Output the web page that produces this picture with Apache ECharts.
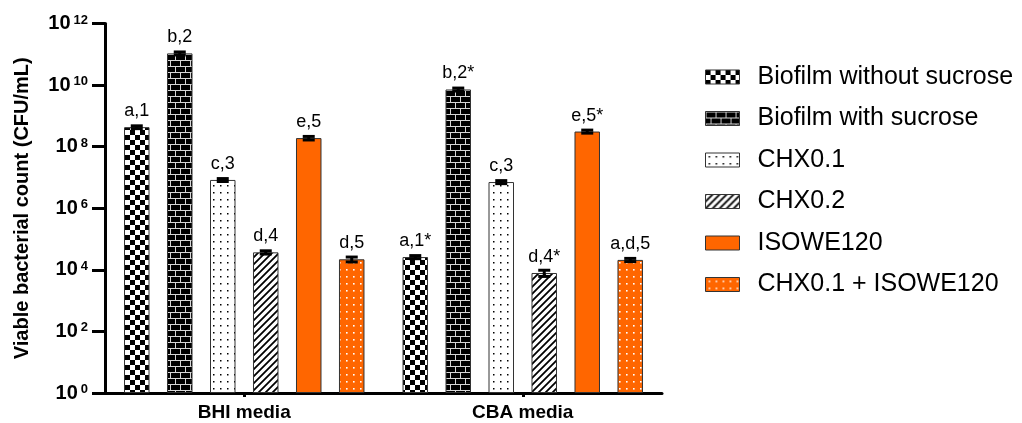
<!DOCTYPE html>
<html>
<head>
<meta charset="utf-8">
<script src="https://cdn.jsdelivr.net/npm/echarts@6/dist/echarts.min.js"></script>
<style>
  html, body { margin: 0; padding: 0; background: #fff; }
  #chart { width: 1022px; height: 423px; }
</style>
</head>
<body>
<div id="chart"></div>
<script>
// Culture media on the x axis
const media = ['BHI media', 'CBA media'];

// Treatment groups (legend order)
const groups = ['Biofilm without sucrose', 'Biofilm with sucrose', 'CHX0.1', 'CHX0.2', 'ISOWE120', 'CHX0.1 + ISOWE120'];

// Mean viable counts (CFU/mL), [BHI, CBA]
const withoutSucrose = [4.3e8, 2.6e4];
const withSucrose    = [1.07e11, 7.2e9];
const chx01          = [8.3e6, 7.1e6];
const chx02          = [3.7e4, 7.9e3];
const isowe120       = [1.9e8, 3.1e8];
const chxIsowe       = [2.2e4, 2.1e4];

// Standard deviations (CFU/mL), [BHI, CBA]
const sdWithoutSucrose = [0.45e8, 0.3e4];
const sdWithSucrose    = [1.2e10, 0.8e9];
const sdChx01          = [0.9e6, 0.8e6];
const sdChx02          = [0.45e4, 1.8e3];
const sdIsowe120       = [0.25e8, 0.35e8];
const sdChxIsowe       = [0.4e4, 0.25e4];

// Significance letters above each bar, [BHI, CBA]
const lblWithoutSucrose = ['a,1', 'a,1*'];
const lblWithSucrose    = ['b,2', 'b,2*'];
const lblChx01          = ['c,3', 'c,3'];
const lblChx02          = ['d,4', 'd,4*'];
const lblIsowe120       = ['e,5', 'e,5*'];
const lblChxIsowe       = ['d,5', 'a,d,5'];

// Y tick exponents (powers of ten)
const yTickExponents = [0, 2, 4, 6, 8, 10, 12];

const means  = [withoutSucrose, withSucrose, chx01, chx02, isowe120, chxIsowe];
const sds    = [sdWithoutSucrose, sdWithSucrose, sdChx01, sdChx02, sdIsowe120, sdChxIsowe];
const labels = [lblWithoutSucrose, lblWithSucrose, lblChx01, lblChx02, lblIsowe120, lblChxIsowe];

const FONT = '"Liberation Sans", Arial, Helvetica, sans-serif';
const ORANGE = '#FF6600';
const BAR_W = 25.5;
const GAP = 0.686;

// ---- fill patterns ----
function makeCanvas(w, h, draw) {
  const c = document.createElement('canvas');
  c.width = w; c.height = h;
  const ctx = c.getContext('2d');
  draw(ctx);
  return { image: c, repeat: 'repeat' };
}
const checker = makeCanvas(10, 10, ctx => {
  ctx.fillStyle = '#fff'; ctx.fillRect(0, 0, 10, 10);
  ctx.fillStyle = '#000'; ctx.fillRect(0, 0, 5, 5); ctx.fillRect(5, 5, 5, 5);
});
const bricks = makeCanvas(10, 12, ctx => {
  ctx.fillStyle = '#000'; ctx.fillRect(0, 0, 10, 12);
  ctx.fillStyle = '#d8d8d8';
  ctx.fillRect(0, 0, 10, 1); ctx.fillRect(0, 6, 10, 1);
  ctx.fillRect(0, 0, 1, 6); ctx.fillRect(5, 6, 1, 6);
});
const dots = makeCanvas(7, 7, ctx => {
  ctx.fillStyle = '#fff'; ctx.fillRect(0, 0, 7, 7);
  ctx.fillStyle = '#000'; ctx.fillRect(3, 3, 1.5, 1.5);
});
const stripes = makeCanvas(7, 7, ctx => {
  ctx.fillStyle = '#fff'; ctx.fillRect(0, 0, 7, 7);
  ctx.strokeStyle = '#000'; ctx.lineWidth = 1.8;
  ctx.beginPath();
  ctx.moveTo(-1, 8); ctx.lineTo(8, -1);
  ctx.moveTo(-1, 1); ctx.lineTo(1, -1);
  ctx.moveTo(6, 8); ctx.lineTo(8, 6);
  ctx.stroke();
});
const orangeDots = makeCanvas(7, 7, ctx => {
  ctx.fillStyle = ORANGE; ctx.fillRect(0, 0, 7, 7);
  ctx.fillStyle = '#fff'; ctx.fillRect(3, 3, 1.6, 1.6);
});
const fills = [checker, bricks, dots, stripes, ORANGE, orangeDots];

// ---- bar series ----
const barSeries = groups.map((name, si) => ({
  name,
  type: 'bar',
  barWidth: BAR_W,
  barGap: (GAP * 100) + '%',
  itemStyle: { color: fills[si], borderColor: '#333', borderWidth: 1 },
  label: {
    show: true,
    position: 'top',
    distance: 7,
    fontFamily: FONT,
    fontSize: 18,
    color: '#000',
    formatter: p => labels[si][p.dataIndex]
  },
  data: means[si],
  z: 2
}));

// ---- error bars (mean ± SD) ----
const errData = [];
means.forEach((arr, si) => {
  arr.forEach((m, ci) => {
    errData.push([ci, m - sds[si][ci], m + sds[si][ci], si]);
  });
});

const errorSeries = {
  type: 'custom',
  name: 'error',
  z: 5,
  silent: true,
  encode: { x: 0, y: [1, 2] },
  data: errData,
  renderItem(params, api) {
    const ci = api.value(0);
    const lo = api.value(1);
    const hi = api.value(2);
    const si = api.value(3);
    const off = (si - (groups.length - 1) / 2) * BAR_W * (1 + GAP);
    const pLo = api.coord([ci, lo]);
    const pHi = api.coord([ci, hi]);
    const x = pLo[0] + off;
    const half = 6;
    const st = { stroke: '#000', lineWidth: 3 };
    return {
      type: 'group',
      children: [
        { type: 'line', shape: { x1: x, y1: pLo[1], x2: x, y2: pHi[1] }, style: st },
        { type: 'line', shape: { x1: x - half, y1: pHi[1], x2: x + half, y2: pHi[1] }, style: st },
        { type: 'line', shape: { x1: x - half, y1: pLo[1], x2: x + half, y2: pLo[1] }, style: st }
      ]
    };
  }
};

const chart = echarts.init(document.getElementById('chart'), null, { renderer: 'canvas' });

chart.setOption({
  animation: false,
  backgroundColor: '#fff',
  textStyle: { fontFamily: FONT },
  grid: { left: 105, right: 360, top: 23.5, bottom: 30, containLabel: false },
  legend: {
    orient: 'vertical',
    left: 700,
    top: 59.5,
    itemWidth: 34,
    itemHeight: 14,
    itemGap: 16.5,
    icon: 'rect',
    data: groups,
    itemStyle: { borderColor: '#333', borderWidth: 1 },
    textStyle: { fontFamily: FONT, fontSize: 25, color: '#000', lineHeight: 25, padding: [0, 0, 0, 13] }
  },
  xAxis: {
    type: 'category',
    data: media,
    axisLine: { lineStyle: { color: '#000', width: 3 } },
    axisTick: { show: true, alignWithLabel: true, length: 4, lineStyle: { color: '#000', width: 3 } },
    axisLabel: { color: '#000', fontFamily: FONT, fontSize: 19, fontWeight: 'bold', margin: 10 }
  },
  yAxis: {
    type: 'log',
    logBase: 10,
    min: Math.pow(10, yTickExponents[0]),
    max: Math.pow(10, yTickExponents[yTickExponents.length - 1]),
    interval: 2,
    name: 'Viable bacterial count (CFU/mL)',
    nameLocation: 'middle',
    nameGap: 73,
    nameTextStyle: { color: '#000', fontFamily: FONT, fontSize: 20, fontWeight: 'bold' },
    splitLine: { show: false },
    minorTick: { show: false },
    axisLine: { show: true, lineStyle: { color: '#000', width: 3 } },
    axisTick: { show: true, length: 13, lineStyle: { color: '#000', width: 3 } },
    axisLabel: {
      margin: 17,
      color: '#000',
      formatter: v => '{b|10}{s|' + Math.round(Math.log10(v)) + '}',
      rich: {
        b: { fontFamily: FONT, fontSize: 20, fontWeight: 'bold', color: '#000' },
        s: { fontFamily: FONT, fontSize: 13, fontWeight: 'bold', color: '#000', verticalAlign: 'top', padding: [0, 0, 0, 3] }
      }
    }
  },
  series: barSeries.concat([errorSeries])
});
</script>
</body>
</html>
